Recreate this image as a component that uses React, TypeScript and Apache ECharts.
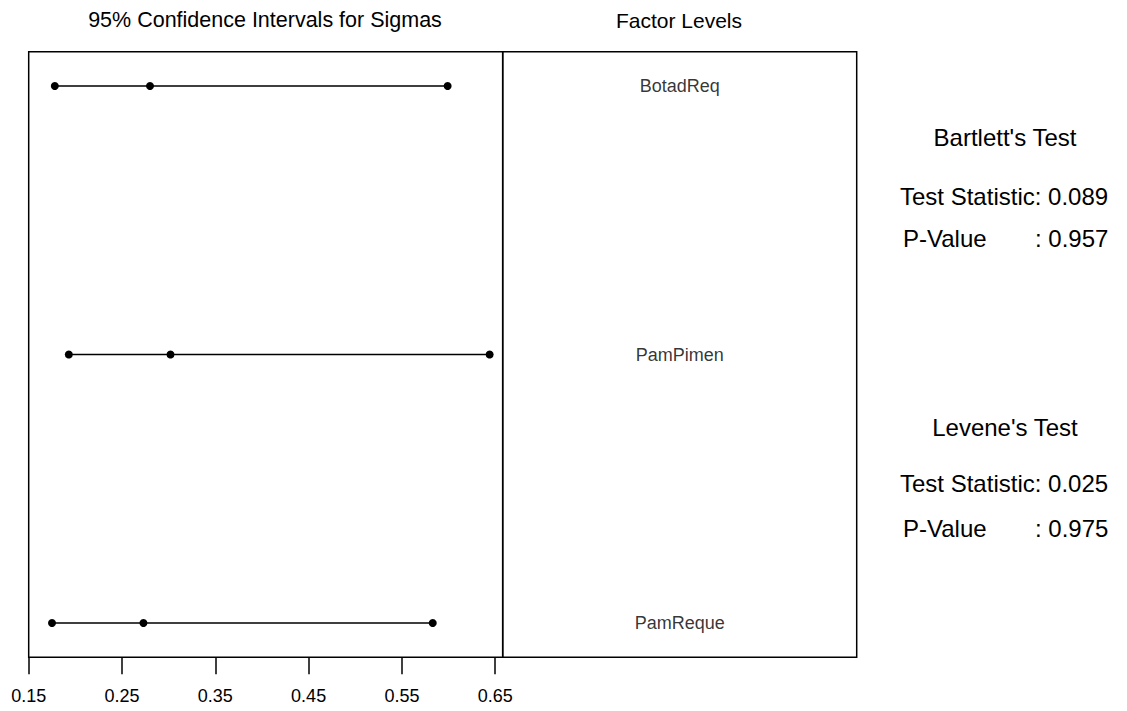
import React, { useEffect, useRef } from "react";
import * as echarts from "echarts";

const factors = ["BotadReq", "PamPimen", "PamReque"];
const lowerCI = [0.178, 0.193, 0.175];
const sigmaEst = [0.28, 0.302, 0.273];
const upperCI = [0.599, 0.644, 0.583];
const xTicks = [0.15, 0.25, 0.35, 0.45, 0.55, 0.65];
const bartlettStat = "0.089";
const bartlettP = "0.957";
const leveneStat = "0.025";
const leveneP = "0.975";

const FONT = "'Liberation Sans', Arial, Helvetica, sans-serif";

export default function App() {
  const ref = useRef<HTMLDivElement>(null);
  useEffect(() => {
    if (!ref.current) return;
    const chart = echarts.init(ref.current, null, { renderer: "svg" });
    const gLeft = 28.7, gRight = 502.7, gTop = 51.7, gBottom = 657.3, rRight = 856.7;
    const yMin = 0.872, yMax = 3.128;

    const lineSeries = factors.map((f, i) => ({
      type: "line",
      name: f,
      xAxisIndex: 0,
      yAxisIndex: 0,
      data: [
        [lowerCI[i], i + 1],
        [sigmaEst[i], i + 1],
        [upperCI[i], i + 1],
      ],
      symbol: "circle",
      symbolSize: 8,
      showSymbol: true,
      itemStyle: { color: "#000" },
      lineStyle: { color: "#000", width: 1.4 },
      silent: true,
    }));

    const textStyleBase = { fill: "#000", fontFamily: FONT };
    const sideX1 = 903;
    const sideX2 = 1035;
    const sideC = 1005;
    const sideFont = 24;

    chart.setOption({
      animation: false,
      backgroundColor: "#fff",
      textStyle: { fontFamily: FONT },
      grid: [
        {
          left: gLeft,
          top: gTop,
          width: gRight - gLeft,
          height: gBottom - gTop,
          show: true,
          borderColor: "#000",
          borderWidth: 1.5,
          backgroundColor: "transparent",
        },
        {
          left: gRight,
          top: gTop,
          width: rRight - gRight,
          height: gBottom - gTop,
          show: true,
          borderColor: "#000",
          borderWidth: 1.5,
          backgroundColor: "transparent",
        },
      ],
      xAxis: [
        {
          type: "value",
          gridIndex: 0,
          min: 0.15,
          max: 0.658,
          position: "bottom",
          splitLine: { show: false },
          axisLine: { show: false },
          axisTick: {
            show: true,
            length: 17,
            customValues: xTicks,
            lineStyle: { color: "#000", width: 1.5 },
          },
          axisLabel: {
            show: true,
            customValues: xTicks,
            formatter: (v: number) => v.toFixed(2),
            fontSize: 18,
            color: "#000",
            margin: 30,
            fontFamily: FONT,
          },
        },
        {
          type: "value",
          gridIndex: 1,
          min: 0,
          max: 1,
          show: false,
        },
      ],
      yAxis: [
        {
          type: "value",
          gridIndex: 0,
          min: yMin,
          max: yMax,
          inverse: true,
          show: false,
        },
        {
          type: "value",
          gridIndex: 1,
          min: yMin,
          max: yMax,
          inverse: true,
          show: false,
        },
      ],
      series: [
        ...lineSeries,
        {
          type: "scatter",
          xAxisIndex: 1,
          yAxisIndex: 1,
          symbolSize: 0,
          itemStyle: { color: "#000" },
          data: factors.map((f, i) => ({ value: [0.5, i + 1], name: f })),
          label: {
            show: true,
            position: "inside",
            formatter: (p: any) => p.name,
            color: "#000",
            textBorderWidth: 0,
            fontSize: 18,
            fontFamily: FONT,
          },
          silent: true,
        },
      ],
      graphic: [
        {
          type: "text",
          x: 265,
          y: 20,
          style: { ...textStyleBase, text: "95% Confidence Intervals for Sigmas", fontSize: 21.5, align: "center", verticalAlign: "middle" },
        },
        {
          type: "text",
          x: 679,
          y: 20,
          style: { ...textStyleBase, text: "Factor Levels", fontSize: 21, align: "center", verticalAlign: "middle" },
        },
        {
          type: "text",
          x: sideC,
          y: 137,
          style: { ...textStyleBase, text: "Bartlett's Test", fontSize: sideFont, align: "center", verticalAlign: "middle" },
        },
        {
          type: "text",
          x: sideX1 - 3,
          y: 196,
          style: { ...textStyleBase, text: "Test Statistic: " + bartlettStat, fontSize: sideFont, align: "left", verticalAlign: "middle" },
        },
        {
          type: "text",
          x: sideX1,
          y: 238,
          style: { ...textStyleBase, text: "P-Value", fontSize: sideFont, align: "left", verticalAlign: "middle" },
        },
        {
          type: "text",
          x: sideX2,
          y: 238,
          style: { ...textStyleBase, text: ": " + bartlettP, fontSize: sideFont, align: "left", verticalAlign: "middle" },
        },
        {
          type: "text",
          x: sideC,
          y: 427,
          style: { ...textStyleBase, text: "Levene's Test", fontSize: sideFont, align: "center", verticalAlign: "middle" },
        },
        {
          type: "text",
          x: sideX1 - 3,
          y: 483,
          style: { ...textStyleBase, text: "Test Statistic: " + leveneStat, fontSize: sideFont, align: "left", verticalAlign: "middle" },
        },
        {
          type: "text",
          x: sideX1,
          y: 528,
          style: { ...textStyleBase, text: "P-Value", fontSize: sideFont, align: "left", verticalAlign: "middle" },
        },
        {
          type: "text",
          x: sideX2,
          y: 528,
          style: { ...textStyleBase, text: ": " + leveneP, fontSize: sideFont, align: "left", verticalAlign: "middle" },
        },
      ],
    });
    return () => chart.dispose();
  }, []);

  return (
    <div
      ref={ref}
      style={{ position: "fixed", left: 0, top: 0, width: 1127, height: 711, background: "#fff" }}
    />
  );
}
